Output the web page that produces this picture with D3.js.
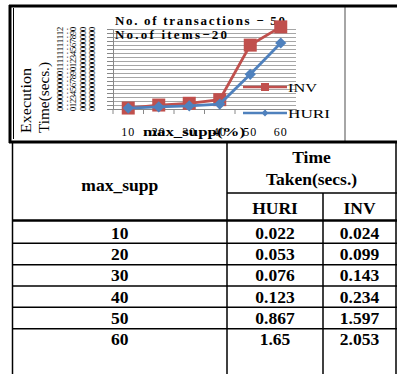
<!DOCTYPE html>
<html>
<head>
<meta charset="utf-8">
<script src="https://cdn.jsdelivr.net/npm/d3@7"></script>
<style>
  body { margin: 0; background: #fff; }
  svg { display: block; }
  text { font-family: "Liberation Serif", "Times New Roman", serif; fill: #000; }
</style>
</head>
<body>
<script>
// ---- data ----
var supp = ["10", "20", "30", "40", "50", "60"];
var huri = [0.022, 0.053, 0.076, 0.123, 0.867, 1.65];
var inv = [0.024, 0.099, 0.143, 0.234, 1.597, 2.053];
var huriText = ["0.022", "0.053", "0.076", "0.123", "0.867", "1.65"];
var invText = ["0.024", "0.099", "0.143", "0.234", "1.597", "2.053"];
var yTicks = d3.range(0, 21).map(function(i) { return i / 10; });
var notes = ["No. of transactions \u2212 50", "No.of items\u221220"];

var W = 397, H = 374;
var svg = d3.select("body").append("svg").attr("width", W).attr("height", H);
svg.append("rect").attr("width", W).attr("height", H).attr("fill", "#fff");

// ---- chart ----
var plot = { left: 113, right: 296, top: 29, bottom: 109 };
var x = d3.scaleBand().domain(supp).range([plot.left, plot.right]);
var y = d3.scaleLinear().domain([0, 2.0]).range([plot.bottom, plot.top]);

var chart = svg.append("g");

// gridlines
chart.append("g")
  .attr("transform", "translate(" + plot.left + ",0)")
  .call(d3.axisLeft(y).tickValues(yTicks).tickSize(-(plot.right - plot.left)).tickFormat(""))
  .call(function(g) {
    g.select(".domain").remove();
    g.selectAll("line").attr("stroke", "#a6a6a6").attr("stroke-width", 1);
  });
// small tick marks to the left
chart.append("g")
  .attr("transform", "translate(" + plot.left + ",0)")
  .call(d3.axisLeft(y).tickValues(yTicks).tickSize(6).tickSizeOuter(0).tickFormat(""))
  .call(function(g) {
    g.select(".domain").attr("stroke", "#888");
    g.selectAll("line").attr("stroke", "#888");
  });

// y tick labels: every glyph turned on its side, laid out in columns
var colOffsets = [-53, -48, -40, -30, -21];
var lab = chart.append("g").attr("class", "ylab");
yTicks.forEach(function(v) {
  var s = d3.format(".3f")(v);
  s.split("").forEach(function(ch, i) {
    var cx = plot.left + colOffsets[i], cy = y(v);
    lab.append("text")
      .attr("x", cx).attr("y", cy)
      .attr("transform", "rotate(-90," + cx + "," + cy + ")")
      .attr("text-anchor", "middle")
      .attr("dominant-baseline", "central")
      .attr("font-size", 9)
      .text(ch);
  });
});

// x axis
chart.append("g")
  .attr("transform", "translate(0," + plot.bottom + ")")
  .call(d3.axisBottom(x).tickSize(0).tickFormat(""))
  .call(function(g) {
    g.select(".domain").attr("stroke", "#888");
    g.selectAll(".tick").remove();
  });
chart.append("g").selectAll("line")
  .data(supp.concat(["end"]))
  .join("line")
  .attr("x1", function(d, i) { return plot.left + i * x.step(); })
  .attr("x2", function(d, i) { return plot.left + i * x.step(); })
  .attr("y1", plot.bottom).attr("y2", plot.bottom + 5)
  .attr("stroke", "#888");
chart.append("g").selectAll("text")
  .data(supp)
  .join("text")
  .attr("x", function(d) { return x(d) + x.bandwidth() / 2; })
  .attr("y", 136)
  .attr("text-anchor", "middle")
  .attr("font-size", 12)
  .attr("letter-spacing", 1)
  .text(function(d) { return d; });

chart.append("text")
  .attr("x", 143).attr("y", 136)
  .attr("font-size", 13).attr("font-weight", "bold")
  .attr("textLength", 102).attr("lengthAdjust", "spacingAndGlyphs")
  .text("max_supp(%)");

// y title
[["Execution", 31, 65], ["Time(secs.)", 49, 71]].forEach(function(t) {
  chart.append("text")
    .attr("transform", "translate(" + t[1] + ",133) rotate(-90)")
    .attr("font-size", 14)
    .attr("textLength", t[2]).attr("lengthAdjust", "spacingAndGlyphs")
    .text(t[0]);
});

// notes
chart.append("text").attr("x", 115).attr("y", 25).attr("font-size", 13).attr("font-weight", "bold")
  .attr("textLength", 170).attr("lengthAdjust", "spacing").text(notes[0]);
chart.append("text").attr("x", 115).attr("y", 39).attr("font-size", 13).attr("font-weight", "bold")
  .attr("textLength", 112).attr("lengthAdjust", "spacing").text(notes[1]);

// series
var line = d3.line()
  .x(function(d, i) { return x(supp[i]) + x.bandwidth() / 2; })
  .y(function(d) { return y(d); });

var redC = "#c0504d", blueC = "#4f81bd";
chart.append("path").datum(inv).attr("d", line).attr("fill", "none").attr("stroke", redC).attr("stroke-width", 2.8);
chart.append("g").selectAll("rect").data(inv).join("rect")
  .attr("x", function(d, i) { return x(supp[i]) + x.bandwidth() / 2 - 6.5; })
  .attr("y", function(d) { return y(d) - 6.5; })
  .attr("width", 13).attr("height", 13).attr("fill", redC);

chart.append("path").datum(huri).attr("d", line).attr("fill", "none").attr("stroke", blueC).attr("stroke-width", 2.8);
var diamond = d3.symbol().type(d3.symbolDiamond2).size(80);
chart.append("g").selectAll("path").data(huri).join("path")
  .attr("transform", function(d, i) { return "translate(" + (x(supp[i]) + x.bandwidth() / 2) + "," + y(d) + ")"; })
  .attr("d", diamond).attr("fill", blueC);

// legend
var legend = [["INV", redC, 87, 29], ["HURI", blueC, 113, 42]];
legend.forEach(function(l, i) {
  var g = chart.append("g");
  g.append("line").attr("x1", 243).attr("x2", 287).attr("y1", l[2]).attr("y2", l[2])
    .attr("stroke", l[1]).attr("stroke-width", 2.5);
  if (i === 0) {
    g.append("rect").attr("x", 261).attr("y", l[2] - 4).attr("width", 8).attr("height", 8).attr("fill", l[1]);
  } else {
    g.append("path").attr("transform", "translate(265," + l[2] + ")")
      .attr("d", d3.symbol().type(d3.symbolDiamond2).size(30)).attr("fill", l[1]);
  }
  g.append("text").attr("x", 288).attr("y", l[2] + 5).attr("font-size", 13.5)
    .attr("textLength", l[3]).attr("lengthAdjust", "spacingAndGlyphs").text(l[0]);
});

// ---- frame ----
var frame = svg.append("g").attr("fill", "none");
frame.append("line").attr("x1", 345).attr("x2", 345).attr("y1", 7).attr("y2", 141).attr("stroke", "#888").attr("stroke-width", 1.5);
frame.append("line").attr("x1", 13.5).attr("x2", 13.5).attr("y1", 8).attr("y2", 139).attr("stroke", "#000").attr("stroke-width", 1);
frame.append("line").attr("x1", 9).attr("x2", W).attr("y1", 6).attr("y2", 6).attr("stroke", "#000").attr("stroke-width", 3);
frame.append("line").attr("x1", 10).attr("x2", 10).attr("y1", 5).attr("y2", 143).attr("stroke", "#000").attr("stroke-width", 3);
frame.append("line").attr("x1", 9).attr("x2", W).attr("y1", 142).attr("y2", 142).attr("stroke", "#000").attr("stroke-width", 3);

// ---- table ----
var cols = { left: 12.5, c1: 227, c2: 323, right: 396 };
var rowY = d3.scaleBand().domain(supp).range([222, 350]);
var tbl = svg.append("g");
var bl = function(x1, x2, y1, y2, w) {
  tbl.append("line").attr("x1", x1).attr("x2", x2).attr("y1", y1).attr("y2", y2)
    .attr("stroke", "#000").attr("stroke-width", w || 1.5);
};
bl(cols.left, cols.left, 142, H);
bl(cols.c1, cols.c1, 142, H);
bl(cols.c2, cols.c2, 193, H);
bl(cols.right, cols.right, 142, H);
bl(cols.c1, W, 193, 193);
bl(cols.left, W, 220.5, 220.5, 2.5);
supp.slice(1).forEach(function(d) { bl(cols.left, W, rowY(d), rowY(d)); });

var tt = function(x0, y0, s) {
  tbl.append("text").attr("x", x0).attr("y", y0).attr("text-anchor", "middle")
    .attr("font-size", 17.5).attr("font-weight", "bold").text(s);
};
tt((cols.left + cols.c1) / 2, 191, "max_supp");
tt((cols.c1 + cols.right) / 2, 163, "Time");
tt((cols.c1 + cols.right) / 2, 185, "Taken(secs.)");
tt((cols.c1 + cols.c2) / 2, 214, "HURI");
tt((cols.c2 + cols.right) / 2, 214, "INV");
supp.forEach(function(d, i) {
  var yy = rowY(d) + rowY.bandwidth() / 2 + 6;
  tt((cols.left + cols.c1) / 2, yy, d);
  tt((cols.c1 + cols.c2) / 2, yy, huriText[i]);
  tt((cols.c2 + cols.right) / 2, yy, invText[i]);
});
</script>
</body>
</html>
